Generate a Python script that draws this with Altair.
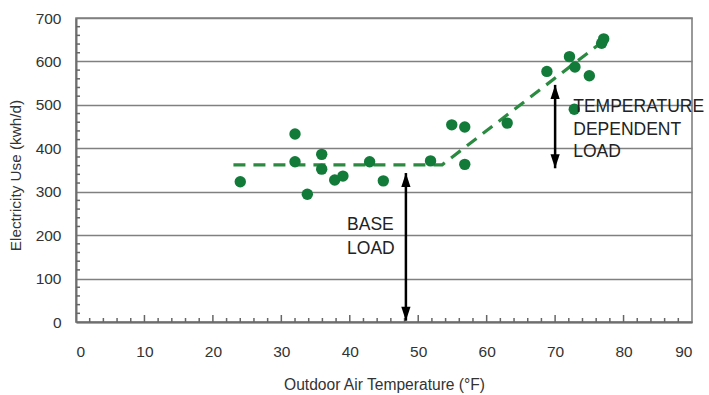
import altair as alt
import pandas as pd

# Scatter data
temp = [24, 32, 32, 33.8, 35.9, 35.9, 37.8, 39.0, 42.9, 44.9, 51.8, 54.9,
        56.8, 56.8, 63.0, 68.8, 72.1, 72.9, 72.8, 75.0, 76.8, 77.1]
use = [323, 433, 369, 294, 386, 352, 327, 336, 369, 325, 371, 454,
       449, 363, 458, 577, 611, 587, 490, 567, 642, 652]

# Piecewise trend line (base load + temperature dependent)
trend_x = [23, 53.5, 77.8]
trend_y = [362, 362, 656]

# Arrows
arrow_x = [48.2, 70.0]
arrow_lo = [3, 354]
arrow_hi = [343, 546]

# Annotation text lines
note_text = ["BASE", "LOAD", "TEMPERATURE", "DEPENDENT", "LOAD"]
note_x = [39.6, 39.6, 72.65, 72.65, 72.65]
note_y = [211.5, 156, 483, 431, 381]

x_ticks = list(range(0, 91, 10))
y_ticks = list(range(0, 701, 100))
x_minor = [v for v in range(2, 90, 2) if v % 10 != 0]
x_major = list(range(10, 90, 10))
y_minor = [v for v in range(20, 700, 20) if v % 100 != 0]

FONT = "Liberation Sans"
GREEN = "#127b39"

xs = alt.Scale(domain=[0, 90], nice=False, zero=False)
ys = alt.Scale(domain=[0, 700], nice=False)

pts = pd.DataFrame({"t": temp, "u": use})
trend = pd.DataFrame({"t": trend_x, "u": trend_y})
arrows = pd.DataFrame({"t": arrow_x, "lo": arrow_lo, "hi": arrow_hi})
notes = pd.DataFrame({"t": note_x, "u": note_y, "txt": note_text})

x_axis = alt.Axis(values=x_ticks, ticks=False, grid=False, title="Outdoor Air Temperature (°F)",
                  labelFont=FONT, labelFontSize=15.5, labelPadding=22, labelColor="#333333",
                  titleFont=FONT, titleFontSize=15.6, titleFontWeight="normal", titleColor="#333333",
                  titleY=67, titleBaseline="alphabetic",
                  domainColor="#6e6e6e", domainWidth=2)
y_axis = alt.Axis(values=y_ticks, ticks=False, grid=True, gridColor="#808080", gridWidth=1.6,
                  title="Electricity Use (kwh/d)",
                  labelFont=FONT, labelFontSize=15.5, labelPadding=15, labelColor="#333333",
                  titleFont=FONT, titleFontSize=15.3, titleFontWeight="normal", titleColor="#333333",
                  titleX=-61, titleY=157, titleAngle=270, titleBaseline="middle",
                  domainColor="#6e6e6e", domainWidth=2)


def X(field):
    return alt.X(field, type="quantitative", scale=xs, axis=x_axis)


def Y(field):
    return alt.Y(field, type="quantitative", scale=ys, axis=y_axis)


points = alt.Chart(pts).mark_circle(size=130, opacity=1, color=GREEN).encode(x=X("t"), y=Y("u"))

line = alt.Chart(trend).mark_line(color="#2a8a40", strokeWidth=3.2, strokeDash=[12, 8]).encode(
    x=X("t"), y=Y("u"))

xminor = alt.Chart(pd.DataFrame({"t": x_minor})).mark_rule(color="#666666", strokeWidth=1.5).encode(
    x=X("t"), y=alt.value(304), y2=alt.value(300))
xmajor = alt.Chart(pd.DataFrame({"t": x_major})).mark_rule(color="#666666", strokeWidth=1.5).encode(
    x=X("t"), y=alt.value(304), y2=alt.value(297))
yminor = alt.Chart(pd.DataFrame({"u": y_minor})).mark_rule(color="#666666", strokeWidth=1.5).encode(
    y=Y("u"), x=alt.value(0), x2=alt.value(4))

shaft = alt.Chart(arrows).mark_rule(color="#000000", strokeWidth=2.5).encode(
    x=X("t"), y=Y("lo"), y2="hi:Q")
head_up = alt.Chart(arrows).mark_point(shape="M0,0 L-0.33,1 L0.33,1 Z", size=784, filled=True,
                                        opacity=1, color="#000000").encode(x=X("t"), y=Y("hi"))
head_dn = alt.Chart(arrows).mark_point(shape="M0,0 L-0.33,-1 L0.33,-1 Z", size=784, filled=True,
                                        opacity=1, color="#000000").encode(x=X("t"), y=Y("lo"))

text = alt.Chart(notes).mark_text(align="left", baseline="alphabetic", font=FONT,
                                  fontSize=17.5, color="#222222").encode(
    x=X("t"), y=Y("u"), text="txt:N")

chart = alt.layer(xminor, xmajor, yminor, line, points, shaft, head_up, head_dn, text).properties(
    width=616, height=304,
    autosize=alt.AutoSizeParams(type="none"),
    padding={"left": 76, "top": 18, "right": 17, "bottom": 73},
    background="white",
).configure_view(stroke="#808080", strokeWidth=1.6)

chart.save("out.html", embed_options={"renderer": "svg", "actions": False})
